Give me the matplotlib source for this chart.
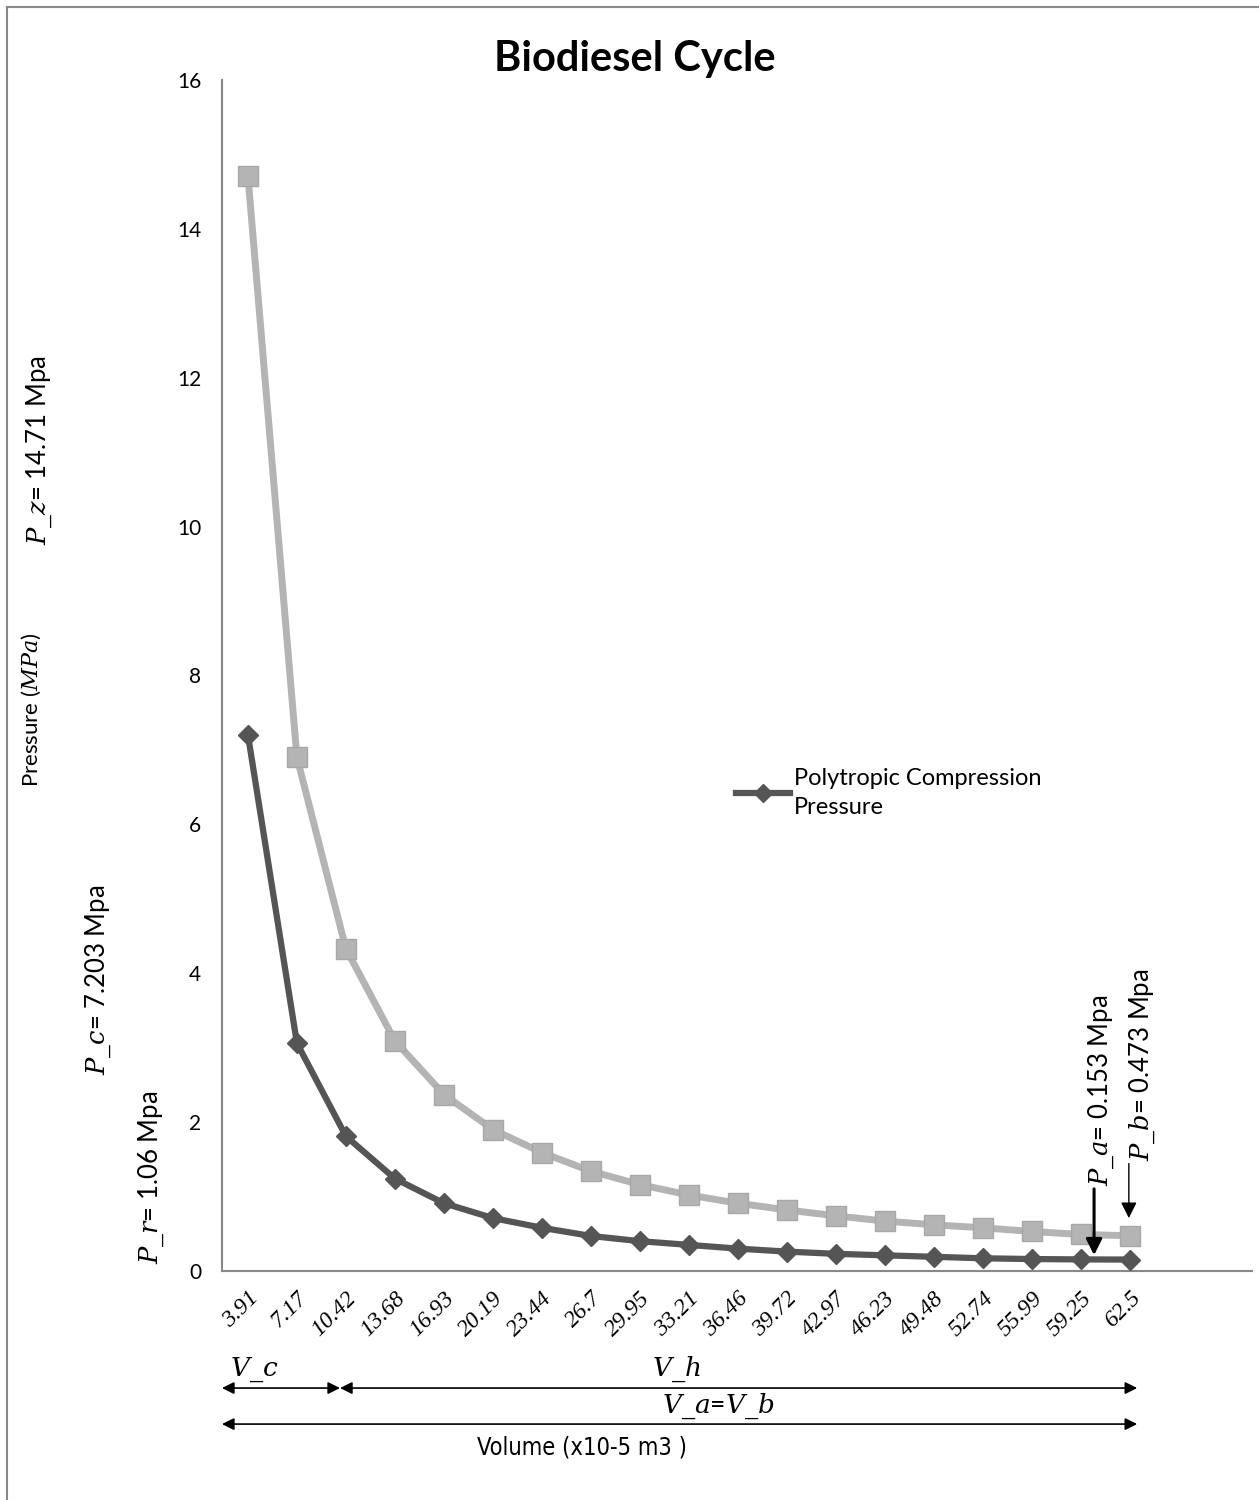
import numpy as np
import matplotlib.pyplot as plt
from matplotlib.lines import Line2D

# 數據
volume_labels = ['3.91', '7.17', '10.42', '13.68', '16.93', '20.19', '23.44', '26.7',
                 '29.95', '33.21', '36.46', '39.72', '42.97', '46.23', '49.48',
                 '52.74', '55.99', '59.25', '62.5']
compression = [7.203, 3.06, 1.81, 1.24, 0.91, 0.71, 0.58, 0.47, 0.40, 0.35,
               0.30, 0.26, 0.23, 0.21, 0.19, 0.17, 0.16, 0.155, 0.153]
expansion = [14.71, 6.90, 4.33, 3.09, 2.37, 1.90, 1.59, 1.34, 1.16, 1.02,
             0.91, 0.82, 0.74, 0.67, 0.62, 0.58, 0.53, 0.49, 0.473]
y_ticks = [0, 2, 4, 6, 8, 10, 12, 14, 16]

plt.rcParams['font.family'] = ['Lato', 'DejaVu Sans']
plt.rcParams['mathtext.fontset'] = 'dejavuserif'

fig = plt.figure(figsize=(12.59, 15.0), dpi=100)
ax = fig.add_axes([0.1763, 0.1527, 0.818, 0.794])

x = np.arange(len(volume_labels))

# 膨脹線 (淺灰)
ax.plot(x, expansion, color='#b4b4b4', lw=5, marker='s', ms=15,
        mfc='#b4b4b4', mec='#a8a8a8', zorder=2)
# 壓縮線 (深灰)
ax.plot(x, compression, color='#555555', lw=4.5, marker='D', ms=10,
        mfc='#555555', mec='#555555', zorder=3)

ax.set_xlim(-0.53, 20.49)
ax.set_ylim(0, 16)
ax.set_yticks(y_ticks)
ax.set_yticklabels([str(v) for v in y_ticks], fontsize=15)
ax.set_xticks(x)
ax.set_xticklabels(volume_labels, rotation=45, ha='right', rotation_mode='anchor',
                   fontsize=17, family='Liberation Serif', style='italic')
ax.tick_params(length=0, pad=15)
ax.tick_params(axis='x', pad=12)

for s in ['top', 'right']:
    ax.spines[s].set_visible(False)
for s in ['left', 'bottom']:
    ax.spines[s].set_color('#888888')
    ax.spines[s].set_linewidth(1.5)

# 圖例
handle = Line2D([], [], color='#555555', lw=4.5, marker='D', ms=9)
leg = ax.legend([handle], ['Polytropic Compression\nPressure'], loc='upper left',
                bbox_to_anchor=(0.49, 0.43), frameon=False, fontsize=17,
                handlelength=2.3, handletextpad=0.15, borderaxespad=0)
leg.get_texts()[0].set_linespacing(1.45)

# 標題
fig.text(0.504, 0.961, 'Biodiesel Cycle', ha='center', va='center',
         fontsize=30, fontweight='bold')

# Y 軸標籤與壓力註解
fig.text(0.025, 0.527, r'Pressure ($MPa$)', rotation=90, ha='center', va='center',
         fontsize=16)
fig.text(0.031, 0.700, r'$P\_z$= 14.71 Mpa', rotation=90, ha='center', va='center',
         fontsize=18.5)
fig.text(0.078, 0.347, r'$P\_c$= 7.203 Mpa', rotation=90, ha='center', va='center',
         fontsize=18.5)
fig.text(0.120, 0.215, r'$P\_r$= 1.06 Mpa', rotation=90, ha='center', va='center',
         fontsize=18.5)

# 右下角箭頭註解
ax.annotate('', xy=(17.27, compression[17] + 0.02), xytext=(17.27, 1.14),
            arrowprops=dict(arrowstyle='-|>', color='black', lw=2.2, mutation_scale=24))
ax.text(17.42, 1.14, r'$P\_a$= 0.153 Mpa', rotation=90, ha='center', va='bottom',
        fontsize=18.5)
ax.annotate('', xy=(17.98, expansion[18] + 0.2), xytext=(17.98, 1.48),
            arrowprops=dict(arrowstyle='-|>', color='black', lw=1, mutation_scale=24))
ax.text(18.25, 1.48, r'$P\_b$= 0.473 Mpa', rotation=90, ha='center', va='bottom',
        fontsize=18.5)

# 體積範圍箭頭
tr = ax.get_xaxis_transform()
y1 = -117 / 1190
y2 = -153 / 1190
arr = dict(arrowstyle='<|-|>', color='black', lw=1.2, mutation_scale=18,
           shrinkA=0, shrinkB=0)
ax.annotate('', xy=(-0.53, y1), xytext=(1.88, y1), xycoords=tr, textcoords=tr,
            arrowprops=arr, annotation_clip=False)
ax.annotate('', xy=(1.88, y1), xytext=(18.15, y1), xycoords=tr, textcoords=tr,
            arrowprops=arr, annotation_clip=False)
ax.annotate('', xy=(-0.53, y2), xytext=(18.15, y2), xycoords=tr, textcoords=tr,
            arrowprops=arr, annotation_clip=False)
ax.text(0.13, y1 + 0.003, r'$V\_c$', transform=tr, ha='center', va='bottom', fontsize=19)
ax.text(8.75, y1 + 0.003, r'$V\_h$', transform=tr, ha='center', va='bottom', fontsize=19)
ax.text(9.6, y2 + 0.003, r'$V\_a$=$V\_b$', transform=tr, ha='center', va='bottom',
        fontsize=19)
fig.text(0.462, 0.035, 'Volume (x10-5 m3 )', ha='center', va='center', fontsize=17,
         family='DejaVu Sans', fontstretch='condensed')

# 外框 (上、左)
fig.add_artist(Line2D([0.0056, 1.0], [0.9953, 0.9953], color='#888888', lw=1.5,
                      transform=fig.transFigure))
fig.add_artist(Line2D([0.0056, 0.0056], [0.0, 0.9953], color='#888888', lw=1.5,
                      transform=fig.transFigure))

fig.savefig('out.png', dpi=100)
